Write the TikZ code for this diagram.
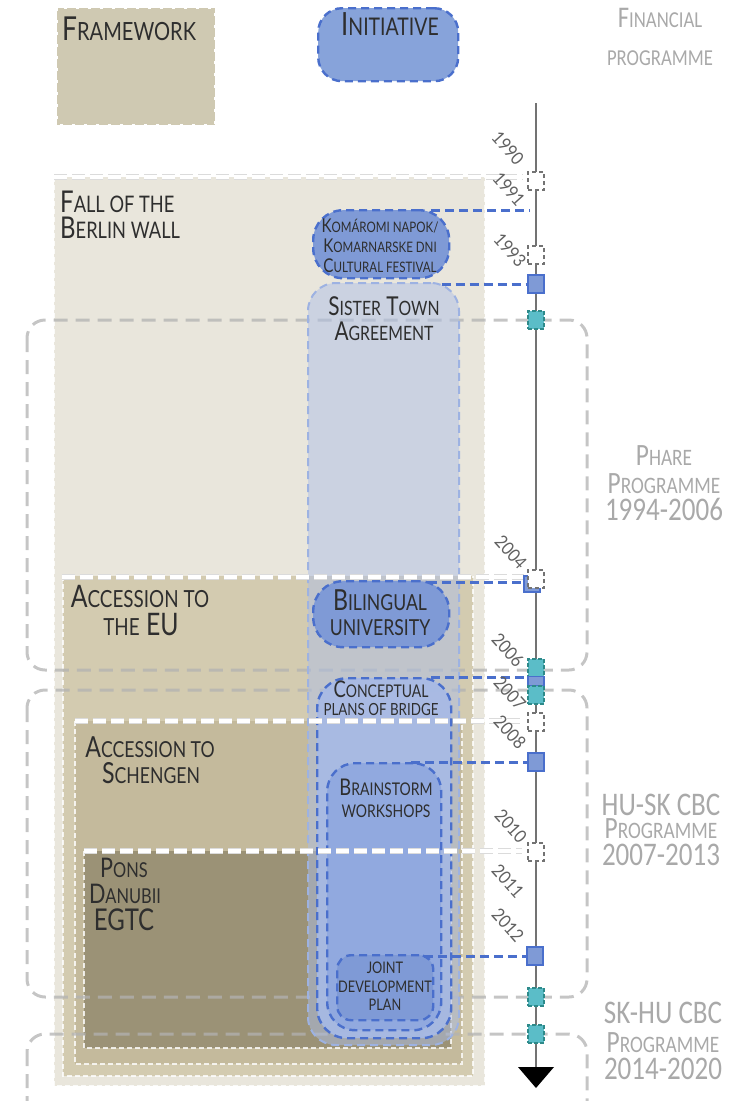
\documentclass[tikz,border=0pt]{standalone}
\usepackage{fontspec}
\setmainfont{Lato}[FakeStretch=0.8]
\newfontfamily\progfont{Carlito}[FakeStretch=0.82]
\newfontfamily\yearfont{Lato}[FakeStretch=0.9]
\usetikzlibrary{calc}
\makeatletter
\newcommand\smc[1]{{\@tempdima=\f@size pt\@tempdima=0.76\@tempdima\fontsize{\strip@pt\@tempdima}{\strip@pt\@tempdima}\selectfont\MakeUppercase{#1}}}
\makeatother
\newcommand\fs[1]{\fontsize{#1}{#1}\selectfont}
\definecolor{fwlegend}{HTML}{CFC9B2}
\definecolor{fwfall}{HTML}{E9E6DC}
\definecolor{fweu}{HTML}{D3CBB0}
\definecolor{fwsch}{HTML}{C4BA9C}
\definecolor{fwpons}{HTML}{9B9276}
\definecolor{inblue}{HTML}{7F9AD6}
\definecolor{inlegend}{HTML}{87A3DA}
\definecolor{inedge}{HTML}{4A6FCC}
\definecolor{sisfill}{HTML}{AEBFE6}
\definecolor{sisedge}{HTML}{9DB2E2}
\definecolor{cblue}{HTML}{A7BAE6}
\definecolor{bblue}{HTML}{91A9DF}
\definecolor{mkteal}{HTML}{5BBDC8}
\definecolor{mktealedge}{HTML}{2E8A8A}
\definecolor{progtext}{HTML}{A9A9A9}
\tikzset{
  lbl/.style={inner sep=0pt, anchor=base, text=black!82},
  legedge/.style={draw=white, line width=2pt, dash pattern=on 3pt off 9pt},
  fwedge/.style={draw=white, line width=1.3pt, dash pattern=on 5pt off 3pt, opacity=.8},
  fwtop/.style={draw=white, line width=3.6pt, dash pattern=on 13pt off 5pt,
    preaction={draw=black!14, line width=5.6pt, dash pattern=on 13pt off 5pt}},
  inbox/.style={draw=inedge, line width=2.4pt, dash pattern=on 8pt off 5pt, rounded corners=#1, inner sep=0pt},
  link/.style={draw=inedge, line width=3pt, dash pattern=on 9pt off 5pt},
  wmark/.style={draw=black!55, fill=white, line width=1.2pt, dash pattern=on 4pt off 3pt, minimum width=16pt, minimum height=18pt, inner sep=0pt},
  bmark/.style={draw=inedge, fill=inblue, line width=1.2pt, minimum width=16pt, minimum height=18pt, inner sep=0pt},
  tmark/.style={draw=mktealedge, fill=mkteal, line width=1.2pt, dash pattern=on 4pt off 2pt, minimum width=16pt, minimum height=18pt, inner sep=0pt},
  bracket/.style={draw=black!30, line width=3pt, dash pattern=on 14pt off 8pt, rounded corners=18pt, opacity=.75},
  timeline/.style={draw=black!55, line width=2pt},
  yr/.style={font=\yearfont\fs{18}, text=black!62, rotate=-48, inner sep=0pt},
  prog/.style={font=\progfont\fs{31}, text=progtext, inner sep=0pt, anchor=base},
}
\begin{document}
\begin{tikzpicture}[x=1pt,y=-1pt]
\useasboundingbox (0,0) rectangle (731,1101);
\clip (0,0) rectangle (731,1101);

% ---------- legend ----------
\path[fill=fwlegend] (57,8) rectangle (215,125);
\draw[legedge] (57,8) rectangle (215,125);
\node[lbl, anchor=base west, font=\fs{33}] (lgfw) at (62,40) {F\smc{ramework}};
\node[inbox=24pt, fill=inlegend, minimum width=140pt, minimum height=73pt, anchor=north west] (lgin) at (317,7) {};
\node[lbl, font=\fs{32}] (lgint) at (390,35) {I\smc{nitiative}};
\node[prog, font=\progfont\fs{30}] (lgfp1) at (660,27) {F\smc{inancial}};
\node[prog, font=\progfont\fs{30}] (lgfp2) at (660,65) {\smc{programme}};

% ---------- framework boxes ----------
\path[fill=fwfall] (54,177) rectangle (485,1086);
\path[fill=fweu] (63,576) rectangle (473,1076);
\path[fill=fwsch] (75,721) rectangle (462,1064);
\path[fill=fwpons] (84,851) rectangle (451,1048);
\draw[fwedge] (54,177) -- (54,1086) -- (485,1086) -- (485,177);
\draw[fwedge] (63,576) -- (63,1076) -- (473,1076) -- (473,576);
\draw[fwedge] (75,721) -- (75,1064) -- (462,1064) -- (462,721);
\draw[fwedge] (84,851) -- (84,1048) -- (451,1048) -- (451,851);

% ---------- programme brackets ----------
\draw[bracket] (27,320) rectangle (587,670);
\draw[bracket] (27,690) rectangle (587,997);
\draw[bracket] (27,1034) rectangle (587,1140);

% ---------- timeline ----------
\coordinate (tltop) at (536,103);
\coordinate (tlbot) at (536,1068);
\draw[timeline] (tltop) -- (tlbot);

% ---------- initiatives ----------
\node[inbox=28pt, draw=sisedge, line width=2pt, fill=sisfill, fill opacity=.5, minimum width=151pt, minimum height=762pt, anchor=north west] (sis) at (307,282) {};
\node[inbox=30pt, fill=cblue, fill opacity=.9, minimum width=134pt, minimum height=360pt, anchor=north west] (con) at (316,677) {};
\node[inbox=28pt, fill=bblue, minimum width=114pt, minimum height=267pt, anchor=north west] (bra) at (326,762) {};
\node[inbox=14pt, fill=inblue, minimum width=96pt, minimum height=65pt, anchor=north west] (joi) at (336,954) {};
\node[inbox=30pt, fill=inblue, minimum width=136pt, minimum height=68pt, anchor=north west] (kom) at (312,209) {};
\node[inbox=30pt, fill=inblue, minimum width=136pt, minimum height=66pt, anchor=north west] (bil) at (312,580) {};

% ---------- framework top lines ----------
\coordinate (fallL) at (54,177);  \coordinate (fallR) at (523,177);
\coordinate (euL) at (62,577);    \coordinate (euR) at (524,577);
\coordinate (schL) at (75,721);   \coordinate (schR) at (522,721);
\coordinate (ponL) at (84,851);   \coordinate (ponR) at (522,851);
\draw[fwtop] (fallL) -- (fallR);
\draw[fwtop] (euL) -- (euR);
\draw[fwtop] (schL) -- (schR);
\draw[fwtop] (ponL) -- (ponR);

% ---------- marker positions ----------
\coordinate (w1) at (536,181);
\coordinate (c1991) at (530,210);
\coordinate (w2) at (536,255);
\coordinate (b1) at (536,284);
\coordinate (t1) at (536,320);
\coordinate (b2) at (532,584);
\coordinate (w3) at (536,579);
\coordinate (t2) at (536,668);
\coordinate (b3) at (536,681);
\coordinate (t3) at (536,695);
\coordinate (w4) at (536,722);
\coordinate (b4) at (536,762);
\coordinate (w5) at (536,852);
\coordinate (b5) at (535,956);
\coordinate (t4) at (536,997);
\coordinate (t5) at (536,1034);

% ---------- connectors ----------
\draw[link] (kom.north) ++(50,1) coordinate (k0) -- (k0 -| c1991);
\draw[link] (sis.north) ++(58,2) coordinate (s0) -- (s0 -| b1);
\draw[link] (bil.north) ++(47,2) coordinate (bl0) -- (bl0 -| b2);
\draw[link] (con.north) ++(47,0) coordinate (c0) -- (c0 -| w3);
\draw[link] (bra.north) ++(27,0) coordinate (br0) -- (br0 -| b4);
\draw[link] (joi.north) ++(39,2) coordinate (j0) -- (j0 -| b5);

% ---------- markers ----------
\node[wmark] (mw1) at (w1) {};
\node[wmark] (mw2) at (w2) {};
\node[bmark] (mb1) at (b1) {};
\node[tmark] (mt1) at (t1) {};
\node[bmark, minimum width=16pt, minimum height=16pt] (mb2) at (b2) {};
\node[wmark] (mw3) at (w3) {};
\node[tmark] (mt2) at (t2) {};
\node[bmark, minimum height=9pt] (mb3) at (b3) {};
\node[tmark] (mt3) at (t3) {};
\node[wmark] (mw4) at (w4) {};
\node[bmark] (mb4) at (b4) {};
\node[wmark] (mw5) at (w5) {};
\node[bmark] (mb5) at (b5) {};
\node[tmark] (mt4) at (t4) {};
\node[tmark] (mt5) at (t5) {};

% ---------- years ----------
\node[yr] (y1990) at (508,148) {1990};
\node[yr] (y1991) at (509,189) {1991};
\node[yr] (y1993) at (510,250) {1993};
\node[yr] (y2004) at (511,552) {2004};
\node[yr] (y2006) at (508,650) {2006};
\node[yr] (y2007) at (510,693) {2007};
\node[yr] (y2008) at (510,732) {2008};
\node[yr] (y2010) at (511,826) {2010};
\node[yr] (y2011) at (508,881) {2011};
\node[yr] (y2012) at (508,925) {2012};

% ---------- framework labels ----------
\node[lbl, anchor=base west, font=\fs{30}] (tfall1) at (60,212) {F\smc{all of the}};
\node[lbl, anchor=base west, font=\fs{30}] (tfall2) at (60,238) {B\smc{erlin wall}};
\node[lbl, font=\fs{31}] (teu1) at (140,607) {A\smc{ccession to}};
\node[lbl, font=\fs{31}] (teu2) at (141,635) {\smc{the} EU};
\node[lbl, font=\fs{29}] (tsch1) at (150,757) {A\smc{ccession to}};
\node[lbl, font=\fs{29}] (tsch2) at (151,783) {S\smc{chengen}};
\node[lbl, font=\fs{27}] (tpon1) at (124,877) {P\smc{ons}};
\node[lbl, font=\fs{27}] (tpon2) at (125,903) {D\smc{anubii}};
\node[lbl, font=\fs{30}] (tpon3) at (124,930) {EGTC};

% ---------- initiative labels ----------
\node[lbl, font=\fs{19}] (tkom1) at (380,232) {K\smc{omáromi napok/}};
\node[lbl, font=\fs{19}] (tkom2) at (380,252) {K\smc{omarnarske dni}};
\node[lbl, font=\fs{19}] (tkom3) at (380,272) {C\smc{ultural festival}};
\node[lbl, font=\fs{26}] (tsis1) at (384,315) {S\smc{ister} T\smc{own}};
\node[lbl, font=\fs{26}] (tsis2) at (384,340) {A\smc{greement}};
\node[lbl, font=\fs{29}] (tbil1) at (380,610) {B\smc{ilingual}};
\node[lbl, font=\fs{29}] (tbil2) at (380,635) {\smc{university}};
\node[lbl, font=\fs{23}] (tcon1) at (381,697) {C\smc{onceptual}};
\node[lbl, font=\fs{22}] (tcon2) at (381,715) {\smc{plans of bridge}};
\node[lbl, font=\fs{23}] (tbra1) at (386,795) {B\smc{rainstorm}};
\node[lbl, font=\fs{23}] (tbra2) at (386,817) {\smc{workshops}};
\node[lbl, font=\fs{21}] (tjoi1) at (385,973) {\smc{joint}};
\node[lbl, font=\fs{21}] (tjoi2) at (385,992) {\smc{development}};
\node[lbl, font=\fs{21}] (tjoi3) at (385,1010) {\smc{plan}};

% ---------- programme labels ----------
\node[prog] (tph1) at (664,465) {P\smc{hare}};
\node[prog] (tph2) at (664,493) {P\smc{rogramme}};
\node[prog, font=\progfont\fs{33}] (tph3) at (664,520) {1994-2006};
\node[prog, font=\progfont\fs{33}] (thu1) at (661,815) {HU-SK CBC};
\node[prog] (thu2) at (661,838) {P\smc{rogramme}};
\node[prog, font=\progfont\fs{33}] (thu3) at (661,865) {2007-2013};
\node[prog, font=\progfont\fs{33}] (tsk1) at (663,1023) {SK-HU CBC};
\node[prog] (tsk2) at (663,1052) {P\smc{rogramme}};
\node[prog, font=\progfont\fs{33}] (tsk3) at (663,1079) {2014-2020};

% ---------- arrow head ----------
\fill[black] (518,1067) -- (554,1067) -- (536,1088) -- cycle;
\end{tikzpicture}
\end{document}
